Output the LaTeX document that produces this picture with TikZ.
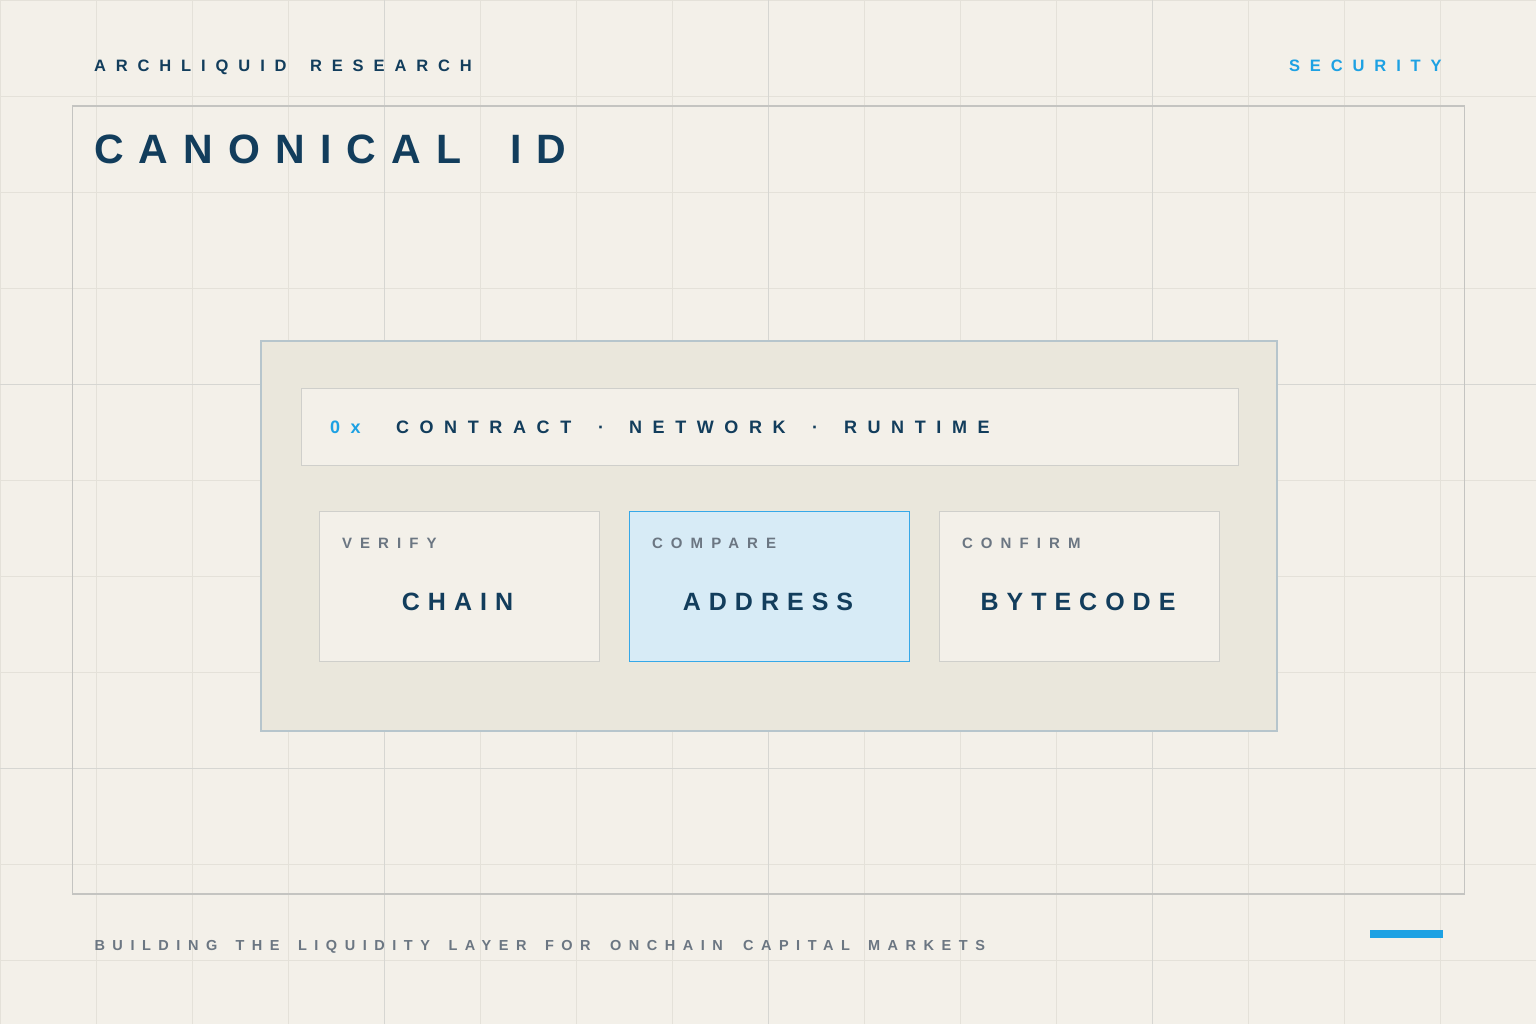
\documentclass[tikz,border=0pt]{standalone}
\usepackage{fontspec}
\setmainfont{Liberation Sans}
\definecolor{bgc}{HTML}{F3F0E9}
\definecolor{gridminor}{HTML}{E4E1D9}
\definecolor{gridmajor}{HTML}{D6D6D2}
\definecolor{framec}{HTML}{C4C4C1}
\definecolor{panelfill}{HTML}{EAE7DC}
\definecolor{panelline}{HTML}{B6C5CC}
\definecolor{cardfill}{HTML}{F3F0E9}
\definecolor{cardline}{HTML}{CFCFCB}
\definecolor{bluefill}{HTML}{D7EBF6}
\definecolor{blueline}{HTML}{36A8E8}
\definecolor{navy}{HTML}{123D5C}
\definecolor{accent}{HTML}{1DA1E3}
\definecolor{graytext}{HTML}{6B7682}
\newcommand{\LSp}[1]{\addfontfeature{LetterSpace=#1}}
\begin{document}
\begin{tikzpicture}[x=1pt,y=-1pt,
  txt/.style={inner sep=0pt, outer sep=0pt, anchor=base west},
  eyebrow/.style={txt, text=navy, font=\fontsize{16.5}{16.5}\selectfont\bfseries\LSp{60}},
  titlestyle/.style={txt, text=navy, font=\fontsize{41}{41}\selectfont\bfseries\LSp{37}},
  barstyle/.style={txt, text=navy, font=\fontsize{18}{18}\selectfont\bfseries\LSp{59}},
  smalllabel/.style={txt, text=graytext, font=\fontsize{15}{15}\selectfont\bfseries\LSp{54}},
  biglabel/.style={inner sep=0pt, outer sep=0pt, anchor=base, text=navy, font=\fontsize{25}{25}\selectfont\bfseries\LSp{32}},
  footerstyle/.style={txt, text=graytext, font=\fontsize{14.5}{14.5}\selectfont\bfseries\LSp{52}},
  cardbox/.style={draw=cardline, fill=cardfill, line width=1.2pt, minimum width=280pt, minimum height=150pt, inner sep=0pt, anchor=north west},
  activecard/.style={cardbox, draw=blueline, fill=bluefill, line width=1.6pt}
]
\useasboundingbox (0,0) rectangle (1536,1024);
\fill[bgc] (0,0) rectangle (1536,1024);
% grid
\foreach \i in {0,...,16} {\draw[gridminor, line width=1pt] (96*\i+0.5,0) -- (96*\i+0.5,1024);}
\foreach \j in {0,...,10} {\draw[gridminor, line width=1pt] (0,96*\j+0.5) -- (1536,96*\j+0.5);}
\foreach \i in {384,768,1152} {\draw[gridmajor, line width=1.4pt] (\i+0.5,0) -- (\i+0.5,1024);}
\foreach \j in {384,768} {\draw[gridmajor, line width=1.4pt] (0,\j+0.5) -- (1536,\j+0.5);}
% frame
\draw[framec, line width=1.4pt] (72.5,106) rectangle (1464.5,894);
% header texts
\node[eyebrow] (brand1) at (94,72) {ARCHLIQUID};
\node[eyebrow] (brand2) at (310,72) {RESEARCH};
\node[eyebrow, text=accent] (topic) at (1289,72) {SECURITY};
\node[titlestyle] (title1) at (94,164) {CANONICAL};
\node[titlestyle] (title2) at (510,164) {ID};
% panel
\draw[panelline, fill=panelfill, line width=2pt] (260.5,340.5) rectangle (1276.5,730.5);
\node[draw=cardline, fill=cardfill, line width=1.2pt, minimum width=937pt, minimum height=77pt, inner sep=0pt, anchor=north west] (bar) at (300.5,387.5) {};
\node[barstyle, text=accent] (hex) at (330,433) {0x};
\node[barstyle] (f1) at (396,433) {CONTRACT};
\node[barstyle] (d1) at (598,433) {·};
\node[barstyle] (f2) at (629,433) {NETWORK};
\node[barstyle] (d2) at (812,433) {·};
\node[barstyle] (f3) at (844,433) {RUNTIME};
% cards
\node[cardbox] (card1) at (318.5,510.5) {};
\node[activecard] (card2) at (628.5,510.5) {};
\node[cardbox] (card3) at (938.5,510.5) {};
\node[smalllabel] (l1) at (342,548) {VERIFY};
\node[smalllabel] (l2) at (652,548) {COMPARE};
\node[smalllabel] (l3) at (962,548) {CONFIRM};
\node[biglabel] (v1) at (457.5,610) {CHAIN};
\node[biglabel] (v2) at (768,610) {ADDRESS};
\node[biglabel] (v3) at (1078,610) {BYTECODE};
% footer
\node[footerstyle] (w1) at (94.5,950) {BUILDING};
\node[footerstyle] (w2) at (235.5,950) {THE};
\node[footerstyle] (w3) at (298,950) {LIQUIDITY};
\node[footerstyle] (w4) at (448.5,950) {LAYER};
\node[footerstyle] (w5) at (545,950) {FOR};
\node[footerstyle] (w6) at (610,950) {ONCHAIN};
\node[footerstyle] (w7) at (743,950) {CAPITAL};
\node[footerstyle] (w8) at (868,950) {MARKETS};
\fill[accent] (1370,930) rectangle (1443,938);
\end{tikzpicture}
\end{document}
